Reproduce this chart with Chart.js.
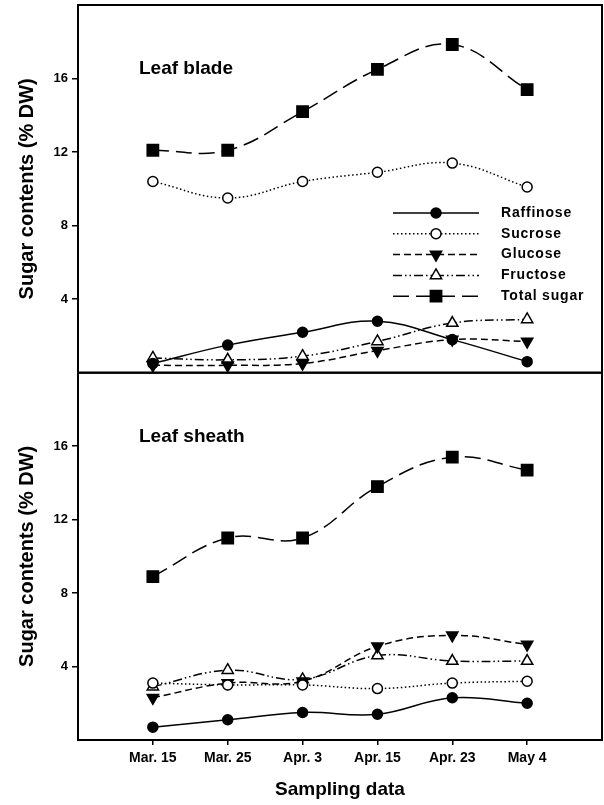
<!DOCTYPE html>
<html>
<head>
<meta charset="utf-8">
<script src="https://cdn.jsdelivr.net/npm/chart.js@4.4.1/dist/chart.umd.min.js"></script>
<style>
  html, body { margin: 0; padding: 0; background: #fff; }
  #wrap { position: relative; width: 604px; height: 805px; }
  canvas { position: absolute; left: 0; }
</style>
</head>
<body>
<div id="wrap">
  <canvas id="blade" width="604" height="380" style="top:0px"></canvas>
  <canvas id="sheath" width="604" height="440" style="top:365px"></canvas>
</div>
<script>
// Sampling dates (x axis) and y tick values
const dates = ['Mar. 15', 'Mar. 25', 'Apr. 3', 'Apr. 15', 'Apr. 23', 'May 4'];
const yTickValues = [4, 8, 12, 16];
const seriesNames = ['Raffinose', 'Sucrose', 'Glucose', 'Fructose', 'Total sugar'];

// Leaf blade (% DW)
const bladeRaffinose = [0.5, 1.5, 2.2, 2.8, 1.8, 0.6];
const bladeSucrose   = [10.4, 9.5, 10.4, 10.9, 11.4, 10.1];
const bladeGlucose   = [0.4, 0.4, 0.5, 1.2, 1.8, 1.7];
const bladeFructose  = [0.8, 0.7, 0.9, 1.7, 2.7, 2.9];
const bladeTotal     = [12.1, 12.1, 14.2, 16.5, 17.85, 15.4];

// Leaf sheath (% DW)
const sheathRaffinose = [0.7, 1.1, 1.5, 1.4, 2.3, 2.0];
const sheathSucrose   = [3.1, 3.0, 3.0, 2.8, 3.1, 3.2];
const sheathGlucose   = [2.3, 3.1, 3.2, 5.1, 5.7, 5.2];
const sheathFructose  = [2.9, 3.8, 3.3, 4.6, 4.3, 4.3];
const sheathTotal     = [8.9, 11.0, 11.0, 13.8, 15.4, 14.7];

const FONT = '"Liberation Sans", Arial, Helvetica, sans-serif';
Chart.defaults.font.family = FONT;
Chart.defaults.font.weight = 'bold';
Chart.defaults.color = '#000';

// Line + marker look for each sugar
const seriesStyles = {
  'Raffinose':   { dash: [],                    point: 'circle',   rot: 0,   r: 5,   fill: '#000' },
  'Sucrose':     { dash: [1.5, 2.5],            point: 'circle',   rot: 0,   r: 5,   fill: '#fff' },
  'Glucose':     { dash: [7, 4],                point: 'triangle', rot: 180, r: 6.5, fill: '#000' },
  'Fructose':    { dash: [9, 3, 1.5, 3, 1.5, 3], point: 'triangle', rot: 0,   r: 6.5, fill: '#fff' },
  'Total sugar': { dash: [16, 7],               point: 'rect',     rot: 0,   r: 8,   fill: '#000' }
};

function makeDatasets(seriesValues) {
  return seriesNames.map((name, k) => {
    const s = seriesStyles[name];
    return {
      label: name,
      data: seriesValues[k].map((v, i) => ({ x: i, y: v })),
      borderColor: '#000',
      borderWidth: 1.5,
      borderDash: s.dash,
      tension: 0.4,
      pointStyle: s.point,
      pointRotation: s.rot,
      pointRadius: s.r,
      pointBackgroundColor: s.fill,
      pointBorderColor: '#000',
      pointBorderWidth: 1.5,
      clip: false
    };
  });
}

// Box around the plotting area
const framePlugin = {
  id: 'frame',
  afterDraw(chart) {
    const { left, top, right, bottom } = chart.chartArea;
    const ctx = chart.ctx;
    ctx.save();
    ctx.strokeStyle = '#000';
    ctx.lineWidth = 2;
    ctx.strokeRect(left, top, right - left, bottom - top);
    ctx.restore();
  }
};

// Panel label ("Leaf blade" / "Leaf sheath")
const panelLabelPlugin = {
  id: 'panelLabel',
  afterDraw(chart, args, opts) {
    if (!opts.text) return;
    const ctx = chart.ctx;
    ctx.save();
    ctx.fillStyle = '#000';
    ctx.font = 'bold 19px ' + FONT;
    ctx.textBaseline = 'middle';
    ctx.fillText(opts.text, chart.chartArea.left + 61, chart.chartArea.top + 64);
    ctx.restore();
  }
};

// Legend drawn inside the top panel, line sample with marker in the middle
const insideLegendPlugin = {
  id: 'insideLegend',
  afterDraw(chart, args, opts) {
    if (!opts.show) return;
    const ctx = chart.ctx;
    const { left, top } = chart.chartArea;
    chart.data.datasets.forEach((ds, i) => {
      const y = top + opts.y + i * opts.rowGap;
      const x0 = left + opts.x;
      ctx.save();
      ctx.strokeStyle = '#000';
      ctx.lineWidth = ds.borderWidth;
      ctx.setLineDash(ds.borderDash || []);
      ctx.beginPath();
      ctx.moveTo(x0, y);
      ctx.lineTo(x0 + opts.lineLen, y);
      ctx.stroke();
      ctx.setLineDash([]);
      ctx.fillStyle = ds.pointBackgroundColor;
      ctx.lineWidth = ds.pointBorderWidth;
      Chart.helpers.drawPoint(ctx, {
        pointStyle: ds.pointStyle,
        rotation: ds.pointRotation,
        radius: ds.pointRadius,
        borderWidth: ds.pointBorderWidth
      }, x0 + opts.lineLen / 2, y);
      ctx.fillStyle = '#000';
      ctx.font = 'bold 14px ' + FONT;
      if ('letterSpacing' in ctx) ctx.letterSpacing = '0.8px';
      ctx.textBaseline = 'middle';
      ctx.fillText(ds.label, x0 + opts.textGap, y);
      ctx.restore();
    });
  }
};

// the scales should not push the plot area in; the frame is placed by layout.padding
function noScalePadding(scale) {
  scale.paddingTop = 0;
  scale.paddingBottom = 0;
  scale.paddingLeft = 0;
  scale.paddingRight = 0;
}

function buildChart(canvasId, seriesValues, panelText, opts) {
  return new Chart(document.getElementById(canvasId), {
    type: 'line',
    data: { datasets: makeDatasets(seriesValues) },
    plugins: [framePlugin, panelLabelPlugin, insideLegendPlugin],
    options: {
      responsive: false,
      animation: false,
      events: [],
      layout: { padding: opts.padding, autoPadding: false },
      plugins: {
        legend: { display: false },
        tooltip: { enabled: false },
        panelLabel: { text: panelText },
        insideLegend: { show: opts.legend, x: 315, y: 208, rowGap: 20.8, lineLen: 86, textGap: 108 }
      },
      scales: {
        x: {
          type: 'linear',
          display: opts.showX,
          min: -1,
          max: 6,
          afterBuildTicks: (scale) => { scale.ticks = dates.map((d, i) => ({ value: i })); },
          afterFit: (scale) => { scale.height = opts.xHeight; noScalePadding(scale); },
          border: { display: false },
          grid: { drawOnChartArea: false, drawTicks: true, tickLength: 5, color: '#000', lineWidth: 1.5 },
          ticks: {
            padding: 5,
            maxRotation: 0,
            autoSkip: false,
            font: { size: 14, weight: 'bold' },
            callback: (v) => dates[v] ?? ''
          },
          title: {
            display: true,
            text: 'Sampling data',
            font: { size: 19, weight: 'bold' },
            padding: { top: 4, bottom: 4 }
          }
        },
        y: {
          min: 0,
          max: 20,
          afterBuildTicks: (scale) => { scale.ticks = yTickValues.map(v => ({ value: v })); },
          afterFit: (scale) => { scale.width = 78; noScalePadding(scale); },
          border: { display: false },
          grid: { drawOnChartArea: false, drawTicks: true, tickLength: 6, color: '#000', lineWidth: 1.5 },
          ticks: { padding: 4, font: { size: 13, weight: 'bold' } },
          title: {
            display: true,
            text: 'Sugar contents (% DW)',
            font: { size: 20, weight: 'bold' },
            padding: { top: 15, bottom: 0 }
          }
        }
      }
    }
  });
}

buildChart('blade',
  [bladeRaffinose, bladeSucrose, bladeGlucose, bladeFructose, bladeTotal],
  'Leaf blade',
  { padding: { top: 5, right: 2, bottom: 7.3, left: 0 }, showX: false, xHeight: 0, legend: true });

buildChart('sheath',
  [sheathRaffinose, sheathSucrose, sheathGlucose, sheathFructose, sheathTotal],
  'Leaf sheath',
  { padding: { top: 7.7, right: 2, bottom: 0, left: 0 }, showX: true, xHeight: 65, legend: false });
</script>
</body>
</html>
